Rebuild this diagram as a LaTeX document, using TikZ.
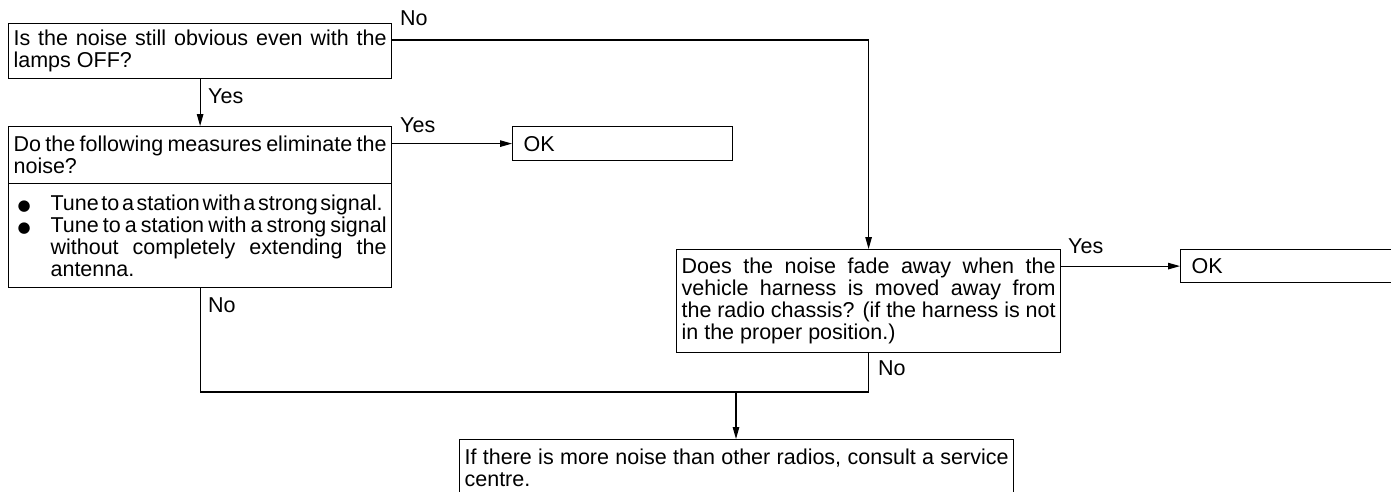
\documentclass[tikz,border=0pt]{standalone}
\usepackage{fontspec}
\setmainfont{Liberation Sans}
\newfontfamily\dejavu{DejaVu Sans}
\usetikzlibrary{arrows.meta}
\newcommand\fs{\fontsize{21.5}{22}\selectfont}
\newcommand\blt{\makebox[37pt][l]{\hspace{4pt}{\dejavu\fontsize{15}{15}\selectfont ●}}}
\begin{document}
\begin{tikzpicture}[x=1pt,y=-1pt,
  box/.style={draw, line width=1.2pt, anchor=north west, inner xsep=5pt, inner ysep=0pt,
    align=justify, font=\fs},
  okbox/.style={draw, line width=1.2pt, anchor=north west, inner xsep=11pt, inner ysep=0pt,
    align=left, font=\fs},
  lbl/.style={anchor=base west, inner sep=0pt, font=\fs},
  conn/.style={line width=1.1pt},
  arr/.style={line width=1.1pt, -{Triangle[length=12pt,width=6.5pt]}}]
\useasboundingbox (0,0) rectangle (1391,491);
\clip (0,0) rectangle (1391,491);

\node[box, text width=373pt, minimum height=55pt] (q1) at (8,23)
  {Is the noise still obvious even with the\linebreak lamps OFF?};
\node[box, text width=373pt, minimum height=57pt] (q2) at (8,126)
  {Do the following measures eliminate the\linebreak noise?};
\node[box, text width=373pt, minimum height=104pt] (b2) at (8,183)
  {\hyphenpenalty=10000
   \noindent\blt{\spaceskip=0.278em plus 0.1em minus 0.16em\hbox to 332pt{Tune to a station with a strong signal.}}\par
   \noindent\hangindent=37pt\hangafter=1\blt Tune to a station with a strong signal\linebreak without completely extending the\linebreak antenna.\par};
\node[okbox, text width=198pt, minimum height=34pt] (ok1) at (512,126) {OK};
\node[box, text width=374pt, minimum height=103pt] (q3) at (676,249)
  {Does the noise fade away when the\linebreak vehicle harness is moved away from\linebreak the radio chassis? (if the harness is not\linebreak in the proper position.)};
\node[okbox, text width=240pt, minimum height=33pt] (ok2) at (1180,249) {OK};
\node[box, text width=544pt, minimum height=56pt] (fin) at (459,439)
  {If there is more noise than other radios, consult a service\linebreak centre.};

\coordinate (noY) at (0,40);
\coordinate (join) at (736,392);

\draw[arr] (q1.south) -- (q2.north);
\node[lbl] (lyes1) at (208,103) {Yes};

\draw[arr] (q1.east |- noY) -| (q3.north);
\node[lbl] (lno1) at (400,25) {No};

\draw[arr] (q2.east |- ok1.west) -- (ok1.west);
\node[lbl] (lyes2) at (400,132) {Yes};

\draw[conn] (b2.south) |- (join);
\node[lbl] (lno2) at (208,312) {No};

\draw[conn] (q3.south) |- (join);
\node[lbl] (lno3) at (878,375) {No};

\draw[arr] (join) -- (join |- fin.north);

\draw[arr] (q3.east |- ok2.west) -- (ok2.west);
\node[lbl] (lyes3) at (1068,253) {Yes};
\end{tikzpicture}
\end{document}
